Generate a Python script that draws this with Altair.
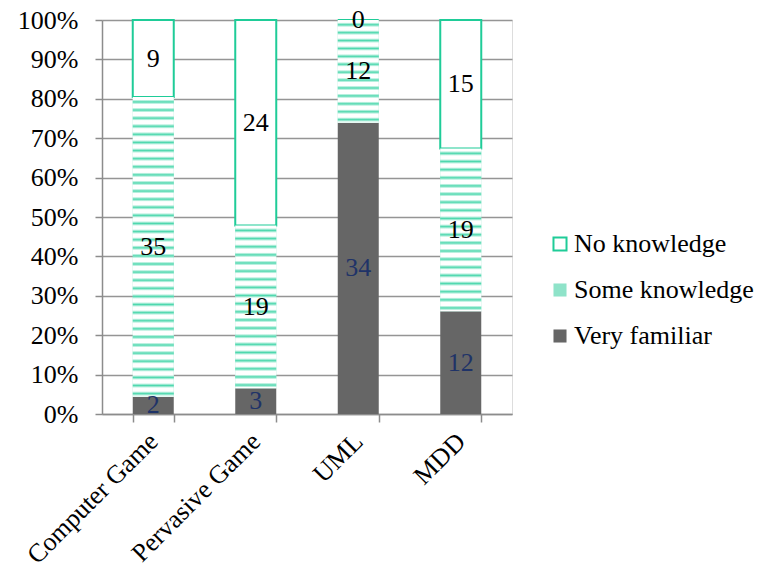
import altair as alt
import pandas as pd

categories = ["Computer Game", "Pervasive Game", "UML", "MDD"]
levels = ["No knowledge", "Some knowledge", "Very familiar"]
very_familiar = [2, 3, 34, 12]
some_knowledge = [35, 19, 12, 19]
no_knowledge = [9, 24, 0, 15]
y_ticks = [0, 0.1, 0.2, 0.3, 0.4, 0.5, 0.6, 0.7, 0.8, 0.9, 1.0]

rows = []
for i, c in enumerate(categories):
    rows.append({"category": c, "level": "Very familiar", "count": very_familiar[i], "order": 0})
    rows.append({"category": c, "level": "Some knowledge", "count": some_knowledge[i], "order": 1})
    rows.append({"category": c, "level": "No knowledge", "count": no_knowledge[i], "order": 2})
df = pd.DataFrame(rows)

TEAL = "#1fcc98"
GRAY = "#666666"
FONT = "Liberation Serif, Times New Roman, serif"
PLOT_H = 394
PLOT_W = 410

base = alt.Chart(df).transform_stack(
    stack="count",
    groupby=["category"],
    as_=["y0", "y1"],
    sort=[alt.SortField("order", order="ascending")],
    offset="normalize",
).transform_calculate(mid="(datum.y0 + datum.y1) / 2")

x_axis = alt.Axis(
    labelAngle=-45,
    labelAlign="right",
    labelBaseline="middle",
    labelFont=FONT,
    labelFontSize=26,
    labelColor="black",
    labelPadding=15,
    tickBand="extent",
    tickSize=8,
    tickColor="#8c8c8c",
    tickWidth=1.5,
    domainColor="#8c8c8c",
    domainWidth=1.5,
    grid=False,
)
x_scale = alt.Scale(paddingInner=0.6, paddingOuter=0.3)

y_axis = alt.Axis(
    values=y_ticks,
    format=".0%",
    labelFont=FONT,
    labelFontSize=26,
    labelColor="black",
    labelPadding=17,
    labelOverlap=False,
    tickSize=7,
    tickColor="#8c8c8c",
    tickWidth=1.5,
    domainColor="#8c8c8c",
    domainWidth=1.5,
    gridColor="#959595",
    gridWidth=1.5,
)
y_scale = alt.Scale(domain=[0, 1], nice=False)

x_enc = alt.X("category:N", sort=categories, title=None, scale=x_scale, axis=x_axis)
y_enc = alt.Y("y0:Q", title=None, scale=y_scale, axis=y_axis)

legend = alt.Legend(
    title=None,
    orient="none",
    legendX=445,
    legendY=211,
    symbolType="square",
    symbolSize=170,
    symbolStrokeWidth=2,
    rowPadding=20,
    labelOffset=1,
)

bars = base.mark_bar(strokeWidth=2).encode(
    x=x_enc,
    y=y_enc,
    y2="y1:Q",
    fill=alt.Fill(
        "level:N",
        scale=alt.Scale(domain=levels, range=["white", "#8fe3c9", GRAY]),
        legend=legend,
    ),
    stroke=alt.Stroke(
        "level:N",
        scale=alt.Scale(domain=levels, range=[TEAL, "rgba(0,0,0,0)", "rgba(0,0,0,0)"]),
        legend=legend,
    ),
)

# wavy pattern approximated by soft horizontal stripes
layers = [bars]
for i, c in enumerate(categories):
    total = very_familiar[i] + some_knowledge[i] + no_knowledge[i]
    frac = some_knowledge[i] / total
    n = max(1, round(frac * PLOT_H / 8.2))
    stops = []
    for k in range(n):
        stops.append(alt.GradientStop(offset=(k + 0.0) / n, color="white"))
        stops.append(alt.GradientStop(offset=(k + 0.3) / n, color="white"))
        stops.append(alt.GradientStop(offset=(k + 0.6) / n, color="#4ed8ae"))
        stops.append(alt.GradientStop(offset=(k + 0.9) / n, color="white"))
    stops.append(alt.GradientStop(offset=1.0, color="white"))
    grad = alt.Gradient(gradient="linear", stops=stops, x1=0, x2=0, y1=0, y2=1)
    layer = base.transform_filter(
        (alt.datum.level == "Some knowledge") & (alt.datum.category == c)
    ).mark_bar(fill=grad).encode(x=x_enc, y=y_enc, y2="y1:Q")
    layers.append(layer)

labels = base.mark_text(font=FONT, fontSize=26, baseline="middle", align="center").encode(
    x=x_enc,
    y=alt.Y("mid:Q", title=None, scale=y_scale, axis=y_axis),
    text=alt.Text("count:Q"),
    color=alt.condition(
        alt.datum.level == "Very familiar", alt.value("#1f3368"), alt.value("black")
    ),
)
layers.append(labels)

chart = alt.layer(*layers).properties(
    width=PLOT_W,
    height=PLOT_H,
    padding={"left": 17, "top": 7, "right": 5, "bottom": 0},
).configure_view(stroke=None).configure(background="white").configure_legend(
    labelFont=FONT, labelFontSize=26, labelColor="black", labelLimit=300
)

chart.save("out.html", embed_options={"renderer": "svg", "actions": False})
